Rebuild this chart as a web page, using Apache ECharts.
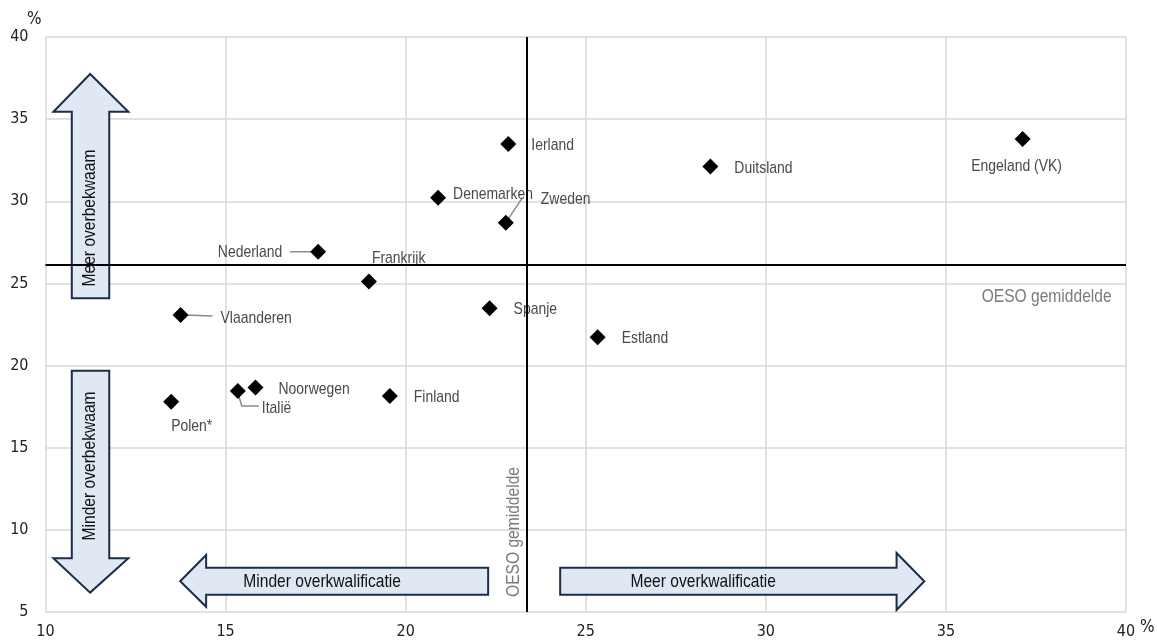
<!DOCTYPE html>
<html><head><meta charset="utf-8">
<script src="https://cdn.jsdelivr.net/npm/echarts@6/dist/echarts.min.js"></script>
<style>html,body{margin:0;padding:0;background:#fff}#c{width:1157px;height:641px}</style>
</head><body><div id="c"></div>
<script>
// ---- data ----
const countries = ['Ierland','Duitsland','Engeland (VK)','Denemarken','Zweden','Nederland','Frankrijk','Spanje','Estland','Vlaanderen','Noorwegen','Italië','Finland','Polen*'];
const overkwalificatie = [22.85,28.46,37.13,20.90,22.78,17.57,18.98,22.33,25.33,13.75,15.83,15.34,19.56,13.49];
const overbekwaam      = [33.49,32.11,33.79,30.22,28.70,26.93,25.11,23.49,21.72,23.08,18.66,18.45,18.15,17.80];
const oesoOverkwalificatie = 23.37;
const oesoOverbekwaam = 26.12;
const xTickLabels = ['10','15','20','25','30','35','40'];
const yTickLabels = ['5','10','15','20','25','30','35','40'];
const arrowTexts = ['Meer overbekwaam','Minder overbekwaam','Minder overkwalificatie','Meer overkwalificatie'];
const oesoLabel = 'OESO gemiddelde';

// ---- styles / layout ----
const FONT = '"Liberation Sans",Arial,sans-serif';
const TICKFONT = '"DejaVu Sans Condensed","Liberation Sans",sans-serif';
const NARROW = 0.82;
// [align, dx, dy] in pixels relative to the point
const labelLayout = {
  'Ierland':['left',23,1], 'Duitsland':['left',24,2], 'Engeland (VK)':['center',-6,27],
  'Denemarken':['left',15,-3], 'Zweden':['left',35,-23], 'Nederland':['right',-36,1],
  'Frankrijk':['left',3,-23], 'Spanje':['left',24,1], 'Estland':['left',24,1],
  'Vlaanderen':['left',40,3], 'Noorwegen':['left',23,2], 'Italië':['left',24,17],
  'Finland':['left',24,1], 'Polen*':['left',0,25]
};
const leaders = {
  'Nederland':[[-28,0],[-6,0]],
  'Vlaanderen':[[3,0],[32,1]],
  'Zweden':[[0,0],[16,-24]],
  'Italië':[[0,2],[4,15],[21,15]]
};
// arrow shapes (in data units) and text anchors
const arrowShapes = [
  {poly:[[10.73,24.10],[11.77,24.10],[11.77,35.45],[12.30,35.45],[11.24,37.75],[10.22,35.45],[10.73,35.45]], t:[11.24,28.98], rot:Math.PI/2},
  {poly:[[10.73,19.69],[11.77,19.69],[11.77,8.27],[12.30,8.27],[11.24,6.18],[10.22,8.27],[10.73,8.27]], t:[11.24,13.89], rot:Math.PI/2},
  {poly:[[22.29,7.70],[22.29,6.05],[14.46,6.05],[14.46,5.32],[13.74,6.87],[14.46,8.47],[14.46,7.70]], t:[17.68,6.87], rot:0},
  {poly:[[24.29,7.70],[24.29,6.05],[33.63,6.05],[33.63,5.12],[34.40,6.87],[33.63,8.59],[33.63,7.70]], t:[28.26,6.87], rot:0}
];

const chart = echarts.init(document.getElementById('c'), null, {renderer:'canvas'});

const pointData = countries.map((n,i)=>({name:n, value:[overkwalificatie[i], overbekwaam[i], i]}));
const leaderData = countries.map((n,i)=>[overkwalificatie[i], overbekwaam[i], i]).filter(d=>leaders[countries[d[2]]]);

const option = {
  animation:false,
  backgroundColor:'#fff',
  grid:{left:45.5, right:31, top:37, bottom:29, containLabel:false},
  xAxis:{type:'value', min:10, max:40, interval:5,
    axisLine:{show:false}, axisTick:{show:false},
    splitLine:{show:true, lineStyle:{color:'#d9d9d9', width:1.5}},
    axisLabel:{margin:12, fontFamily:TICKFONT, fontSize:16, color:'#222',
      formatter:(v)=>xTickLabels[Math.round((v-10)/5)]}},
  yAxis:{type:'value', min:5, max:40, interval:5,
    axisLine:{show:false}, axisTick:{show:false},
    splitLine:{show:true, lineStyle:{color:'#d9d9d9', width:1.5}},
    axisLabel:{margin:17, fontFamily:TICKFONT, fontSize:16, color:'#222',
      formatter:(v)=>yTickLabels[Math.round((v-5)/5)]}},
  graphic:[
    {type:'text', left:27, top:11, style:{text:'%', font:'17px '+TICKFONT, fill:'#222'}},
    {type:'text', left:1140, top:619, style:{text:'%', font:'17px '+TICKFONT, fill:'#222'}}
  ],
  series:[
    {type:'custom', z:1, silent:true,
      data: arrowShapes.map(a=>a.t),
      renderItem:(params, api)=>{
        const a = arrowShapes[params.dataIndex];
        const pts = a.poly.map(p=>api.coord(p));
        const c = api.coord(a.t);
        return {type:'group', children:[
          {type:'polygon', shape:{points:pts}, style:{fill:'#dfe8f3', stroke:'#1b2d4a', lineWidth:2}},
          {type:'text', x:c[0], y:c[1], rotation:a.rot, scaleX:NARROW,
            style:{text:arrowTexts[params.dataIndex], font:'19px '+FONT, fill:'#111', align:'center', verticalAlign:'middle'}}
        ]};
      }},
    {type:'custom', z:2, silent:true,
      data:[[oesoOverkwalificatie-0.38, 9.87],[39.60, 24.16]],
      renderItem:(params, api)=>{
        const c = api.coord([api.value(0), api.value(1)]);
        const vert = params.dataIndex===0;
        return {type:'text', x:c[0], y:c[1], rotation: vert?Math.PI/2:0, scaleX:NARROW,
          style:{text:oesoLabel, font:'19px '+FONT, fill:'#7a7a7a', align: vert?'center':'right', verticalAlign:'middle'}};
      }},
    {type:'custom', z:3, silent:true,
      data: leaderData,
      renderItem:(params, api)=>{
        const name = countries[api.value(2)];
        const c = api.coord([api.value(0), api.value(1)]);
        const pts = leaders[name].map(o=>[c[0]+o[0], c[1]+o[1]]);
        return {type:'polyline', shape:{points:pts}, style:{stroke:'#8a8a8a', lineWidth:1.5, fill:null}};
      }},
    {type:'custom', z:4, silent:true,
      data: pointData,
      renderItem:(params, api)=>{
        const name = countries[api.value(2)];
        const L = labelLayout[name];
        const c = api.coord([api.value(0), api.value(1)]);
        return {type:'text', x:c[0]+L[1], y:c[1]+L[2], scaleX:NARROW,
          style:{text:name, font:'17px '+FONT, fill:'#4a4a4a', align:L[0], verticalAlign:'middle'}};
      }},
    {type:'scatter', z:5, symbol:'diamond', symbolSize:16,
      itemStyle:{color:'#000', opacity:1},
      data: pointData,
      markLine:{silent:true, symbol:'none', label:{show:false},
        lineStyle:{color:'#000', width:2, type:'solid'},
        data:[{xAxis:oesoOverkwalificatie},{yAxis:oesoOverbekwaam}]}
    }
  ]
};
chart.setOption(option);
</script>
</body></html>
